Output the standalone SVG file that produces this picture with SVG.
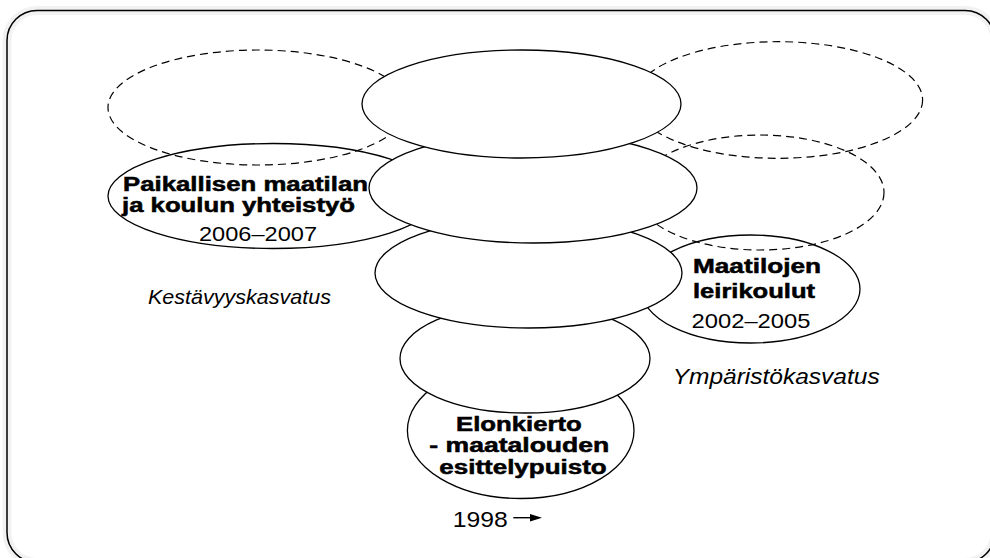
<svg xmlns="http://www.w3.org/2000/svg" width="990" height="558" viewBox="0 0 990 558">
  <style>
    .solid { fill: #fff; stroke: #000; stroke-width: 1.3; }
    .dash { fill: none; stroke: #000; stroke-width: 1.2; stroke-dasharray: 8 5; }
    .b { font-family: "Liberation Sans", Arial, sans-serif; font-weight: bold; font-size: 19.5px; fill: #000; stroke: #000; stroke-width: 0.5; }
    .r { font-family: "Liberation Sans", Arial, sans-serif; font-size: 21px; fill: #000; }
    .i { font-family: "Liberation Sans", Arial, sans-serif; font-style: italic; font-size: 21px; fill: #000; }
  </style>

  <rect width="990" height="558" fill="#fff"/>

  <!-- frame -->
  <g id="frame">
    <rect x="7" y="10.5" width="988" height="552" rx="30" ry="30" fill="none" stroke="#000" stroke-opacity="0.05" stroke-width="9"/>
    <rect x="7" y="10.5" width="988" height="552" rx="30" ry="30" fill="none" stroke="#000" stroke-width="1.5"/>
  </g>

  <!-- side project ellipses -->
  <g id="node-paikallisen">
    <ellipse class="solid" cx="273" cy="196" rx="165" ry="52.5"/>
    <text class="b" x="123" y="191" textLength="245" lengthAdjust="spacingAndGlyphs">Paikallisen maatilan</text>
    <text class="b" x="122" y="212" textLength="233" lengthAdjust="spacingAndGlyphs">ja koulun yhteistyö</text>
    <text class="r" x="199" y="240.5" textLength="118" lengthAdjust="spacingAndGlyphs">2006–2007</text>
  </g>

  <g id="node-maatilojen">
    <ellipse class="solid" cx="750.5" cy="289" rx="109.5" ry="54"/>
    <text class="b" x="693" y="273" textLength="128" lengthAdjust="spacingAndGlyphs">Maatilojen</text>
    <text class="b" x="693" y="298" textLength="122" lengthAdjust="spacingAndGlyphs">leirikoulut</text>
    <text class="r" x="691.5" y="327.5" textLength="119" lengthAdjust="spacingAndGlyphs">2002–2005</text>
  </g>

  <!-- dashed outline ellipses -->
  <g id="node-dashed-left">
    <ellipse class="dash" cx="258" cy="107.5" rx="150" ry="57.5"/>
  </g>
  <g id="node-dashed-upper-right">
    <ellipse class="dash" cx="778" cy="100" rx="144.6" ry="58.3"/>
  </g>
  <g id="node-dashed-lower-right">
    <ellipse class="dash" cx="760" cy="192.5" rx="124" ry="57.5"/>
  </g>

  <!-- central stack, bottom layer first -->
  <g id="node-elonkierto">
    <ellipse class="solid" cx="520.7" cy="430.5" rx="113.3" ry="68"/>
    <text class="b" x="456" y="430.5" textLength="125.7" lengthAdjust="spacingAndGlyphs">Elonkierto</text>
    <text class="b" x="429.3" y="452" textLength="180" lengthAdjust="spacingAndGlyphs">- maatalouden</text>
    <text class="b" x="439.3" y="474" textLength="167.4" lengthAdjust="spacingAndGlyphs">esittelypuisto</text>
  </g>
  <g id="node-stack-4">
    <ellipse class="solid" cx="525" cy="358.5" rx="125" ry="54.5"/>
  </g>
  <g id="node-stack-3">
    <ellipse class="solid" cx="528.5" cy="273" rx="153.5" ry="55"/>
  </g>
  <g id="node-stack-2">
    <ellipse class="solid" cx="533" cy="188" rx="164" ry="55"/>
  </g>
  <g id="node-stack-1">
    <ellipse class="solid" cx="521.5" cy="104" rx="159.5" ry="54"/>
  </g>

  <!-- theme labels -->
  <g id="label-kestavyys">
    <text class="i" x="148" y="304.3" textLength="183" lengthAdjust="spacingAndGlyphs">Kestävyyskasvatus</text>
  </g>
  <g id="label-ymparisto">
    <text class="i" x="672.7" y="384.3" style="font-size:22.5px" textLength="207" lengthAdjust="spacingAndGlyphs">Ympäristökasvatus</text>
  </g>

  <!-- start year with arrow -->
  <g id="label-1998">
    <text class="r" x="452.7" y="526.7" style="font-size:22.5px" textLength="55" lengthAdjust="spacingAndGlyphs">1998</text>
  </g>
  <g id="connectors">
    <line x1="513.3" y1="517.7" x2="533" y2="517.7" stroke="#000" stroke-width="1.4"/>
    <polygon points="530,513.9 542,517.7 530,521.5" fill="#000"/>
  </g>
</svg>
